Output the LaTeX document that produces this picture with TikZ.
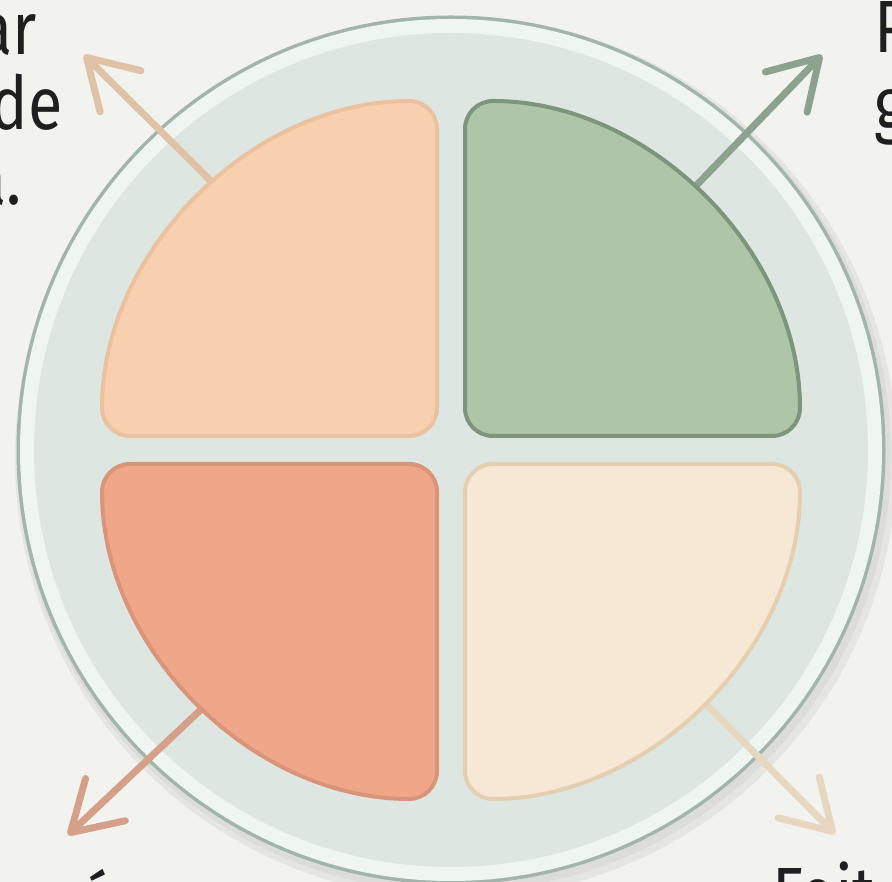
\documentclass[tikz,border=0pt]{standalone}
\usepackage{fontspec}
\newfontfamily\lblfont{Fira Sans}[FakeStretch=0.85]
\usetikzlibrary{arrows.meta}
\definecolor{bg}{HTML}{F2F3EE}
\definecolor{plate}{HTML}{DEE6E1}
\definecolor{rimwhite}{HTML}{EFF5F1}
\definecolor{rimline}{HTML}{A3B5AA}
\definecolor{tlfill}{HTML}{F8D0AF}
\definecolor{tlline}{HTML}{EAC2A0}
\definecolor{trfill}{HTML}{AFC5A7}
\definecolor{trline}{HTML}{7D957C}
\definecolor{blfill}{HTML}{F0A688}
\definecolor{blline}{HTML}{DA9479}
\definecolor{brfill}{HTML}{F6E8D4}
\definecolor{brline}{HTML}{E4CFB1}
\definecolor{tlarr}{HTML}{E0C3A6}
\definecolor{trarr}{HTML}{8DA28E}
\definecolor{blarr}{HTML}{D4A08A}
\definecolor{brarr}{HTML}{E7D6C0}
\begin{document}
\begin{tikzpicture}[x=1pt,y=1pt,
  quad/.style={line width=4pt, rounded corners=28pt},
  arr/.style={line width=7pt, line cap=round,
    -{Straight Barb[length=48pt,width=58pt,round]}},
  lbl/.style={inner sep=0pt, font=\lblfont\fontsize{74}{74}\selectfont, text=black!88}]
\useasboundingbox (0,0) rectangle (892,882);
\fill[bg] (0,0) rectangle (892,882);
\coordinate (O) at (451,432);
% plate
\fill[black,opacity=0.05] (456,424) circle (441);
\fill[black,opacity=0.04] (454,427) circle (437);
\fill[rimline] (O) circle (434.5);
\fill[rimwhite] (O) circle (431);
\fill[plate] (O) circle (417);
% arrow end points
\coordinate (tls) at (218,694);
\coordinate (tlt) at (84,827);
\coordinate (trs) at (690,690);
\coordinate (trt) at (822,827);
\coordinate (bls) at (210,181);
\coordinate (blt) at (68,47);
\coordinate (brs) at (698,186);
\coordinate (brt) at (835,48);
\draw[arr, tlarr] (tls) -- (tlt);
\draw[arr, trarr] (trs) -- (trt);
\draw[arr, blarr] (bls) -- (blt);
\draw[arr, brarr] (brs) -- (brt);
% quadrants
\draw[quad, fill=tlfill, draw=tlline] (437,446) -- (102,446) arc[start angle=180,end angle=90,radius=335] -- cycle;
\draw[quad, fill=trfill, draw=trline] (465,446) -- (465,781) arc[start angle=90,end angle=0,radius=335] -- cycle;
\draw[quad, fill=blfill, draw=blline] (437,418) -- (102,418) arc[start angle=180,end angle=270,radius=335] -- cycle;
\draw[quad, fill=brfill, draw=brline] (465,418) -- (800,418) arc[start angle=0,end angle=-90,radius=335] -- cycle;
% labels (cut by the page edge, as in the reference)
\node[lbl, anchor=base east] (t1) at (37,827) {ar};
\node[lbl, anchor=base east] (t2) at (63,752) {de};
\node[lbl, anchor=base east] (t3) at (22,677) {a.};
\node[lbl, anchor=base west] (t4) at (874,829) {P};
\node[lbl, anchor=base west] (t5) at (874,752) {g};
\node[lbl, anchor=base west] (t6) at (772,-38) {Feit};
\node[lbl] (t7) at (98,-17) {´};
\end{tikzpicture}
\end{document}
